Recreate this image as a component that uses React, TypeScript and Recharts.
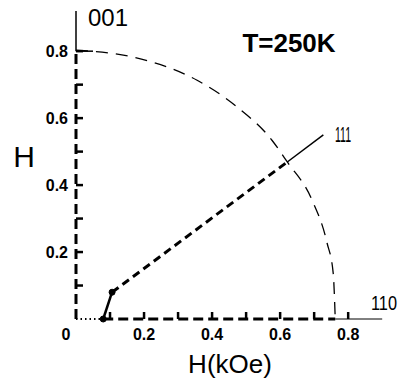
import React from "react";
import { LineChart, Line, XAxis, YAxis, Customized } from "recharts";

// Axis ticks (H in kOe)
const xTicks = [0, 0.1, 0.2, 0.3, 0.4, 0.5, 0.6, 0.7, 0.8];
const yTicks = [0.1, 0.2, 0.3, 0.4, 0.5, 0.6, 0.7, 0.8];
const labeledTicks = [0, 0.2, 0.4, 0.6, 0.8];

// [001] direction axis
const axis001Dashed = [{ x: 0, y: 0 }, { x: 0, y: 0.8 }];
const axis001Solid = [{ x: 0, y: 0.8 }, { x: 0, y: 0.92 }];

// [110] direction axis
const axis110Dotted = [{ x: 0, y: 0 }, { x: 0.08, y: 0 }];
const axis110Dashed = [{ x: 0.08, y: 0 }, { x: 0.762, y: 0 }];
const axis110Solid = [{ x: 0.762, y: 0 }, { x: 0.9, y: 0 }];

// Phase boundary (quarter arc)
const arcStart = [{ x: 0, y: 0.8 }, { x: 0.05, y: 0.8 }];
const arcPoints = [
  { x: 0, y: 0.803 },
  { x: 0.168, y: 0.782 },
  { x: 0.356, y: 0.713 },
  { x: 0.474, y: 0.633 },
  { x: 0.576, y: 0.534 },
  { x: 0.621, y: 0.469 },
  { x: 0.694, y: 0.355 },
  { x: 0.738, y: 0.227 },
  { x: 0.756, y: 0.137 },
  { x: 0.762, y: 0 },
];

// [111] direction
const path111Low = [{ x: 0.08, y: 0 }, { x: 0.106, y: 0.08 }];
const path111Dashed = [{ x: 0.106, y: 0.08 }, { x: 0.621, y: 0.469 }];
const path111Solid = [{ x: 0.621, y: 0.469 }, { x: 0.727, y: 0.55 }];

const FONT = "'Liberation Sans', Arial, sans-serif";

const fmt = (v: number) => (v === 0 ? "0" : v.toFixed(1));
const isLabeled = (v: number) => labeledTicks.some((t) => Math.abs(t - v) < 1e-6);

const XTick = (props: any) => {
  const { x, y, payload } = props;
  const v = payload.value as number;
  return (
    <g>
      {v !== 0 && <line x1={x} y1={y} x2={x} y2={y - 7} stroke="#000" strokeWidth={2.5} />}
      <text
        x={v === 0 ? x - 10 : x}
        y={y + 21}
        textAnchor="middle"
        fontFamily={FONT}
        fontWeight="bold"
        fontSize={16}
        fill="#000"
      >
        {isLabeled(v) ? fmt(v) : ""}
      </text>
    </g>
  );
};

const YTick = (props: any) => {
  const { x, y, payload } = props;
  const v = payload.value as number;
  return (
    <g>
      <line x1={x} y1={y} x2={x + 7} y2={y} stroke="#000" strokeWidth={2.5} />
      <text
        x={x - 8}
        y={y + 5.5}
        textAnchor="end"
        fontFamily={FONT}
        fontWeight="bold"
        fontSize={16}
        fill="#000"
      >
        {isLabeled(v) ? fmt(v) : ""}
      </text>
    </g>
  );
};

const Labels = () => (
  <g fontFamily={FONT} fill="#000">
    <text x={24} y={167} fontSize={30} textAnchor="middle">H</text>
    <text x={230} y={373} fontSize={26} textAnchor="middle">H(kOe)</text>
    <text x={289} y={52} fontSize={26} textAnchor="middle" fontWeight="bold">T=250K</text>
    <text x={88} y={26} fontSize={24} textLength={40} lengthAdjust="spacingAndGlyphs">001</text>
    <text x={335} y={142} fontSize={22} textLength={16} lengthAdjust="spacingAndGlyphs">111</text>
    <text x={371} y={310} fontSize={20} textLength={26} lengthAdjust="spacingAndGlyphs">110</text>
  </g>
);

export default function App() {
  return (
    <div style={{ position: "absolute", left: 0, top: 0, background: "#fff" }}>
      <LineChart width={403} height={384} margin={{ top: 11, right: 14, bottom: 35, left: 16 }}>
        <XAxis
          type="number"
          dataKey="x"
          domain={[0, 0.92]}
          ticks={xTicks}
          interval={0}
          axisLine={false}
          tickLine={false}
          tickSize={0}
          tickMargin={0}
          height={30}
          tick={(p: any) => <XTick {...p} />}
        />
        <YAxis
          type="number"
          dataKey="y"
          domain={[0, 0.92]}
          ticks={yTicks}
          interval={0}
          axisLine={false}
          tickLine={false}
          tickSize={0}
          tickMargin={0}
          width={60}
          tick={(p: any) => <YTick {...p} />}
        />
        <Line data={axis001Dashed} dataKey="y" stroke="#000" strokeWidth={3} strokeDasharray="10 5" dot={false} isAnimationActive={false} />
        <Line data={axis001Solid} dataKey="y" stroke="#000" strokeWidth={1.5} dot={false} isAnimationActive={false} />
        <Line data={axis110Dotted} dataKey="y" stroke="#000" strokeWidth={2} strokeDasharray="1.5 3" dot={false} isAnimationActive={false} />
        <Line data={axis110Dashed} dataKey="y" stroke="#000" strokeWidth={3} strokeDasharray="10 5" dot={false} isAnimationActive={false} />
        <Line data={axis110Solid} dataKey="y" stroke="#000" strokeWidth={1} dot={false} isAnimationActive={false} />
        <Line data={arcStart} dataKey="y" stroke="#000" strokeWidth={1.5} dot={false} isAnimationActive={false} />
        <Line data={arcPoints} dataKey="y" type="monotone" stroke="#000" strokeWidth={1.3} strokeDasharray="12 8" dot={false} isAnimationActive={false} />
        <Line data={path111Dashed} dataKey="y" stroke="#000" strokeWidth={3} strokeDasharray="8 5" dot={false} isAnimationActive={false} />
        <Line data={path111Solid} dataKey="y" stroke="#000" strokeWidth={1.5} dot={false} isAnimationActive={false} />
        <Line data={path111Low} dataKey="y" stroke="#000" strokeWidth={2.5} dot={{ r: 3, fill: "#000", stroke: "#000", strokeWidth: 1 }} isAnimationActive={false} />
        <Customized component={Labels} />
      </LineChart>
    </div>
  );
}
